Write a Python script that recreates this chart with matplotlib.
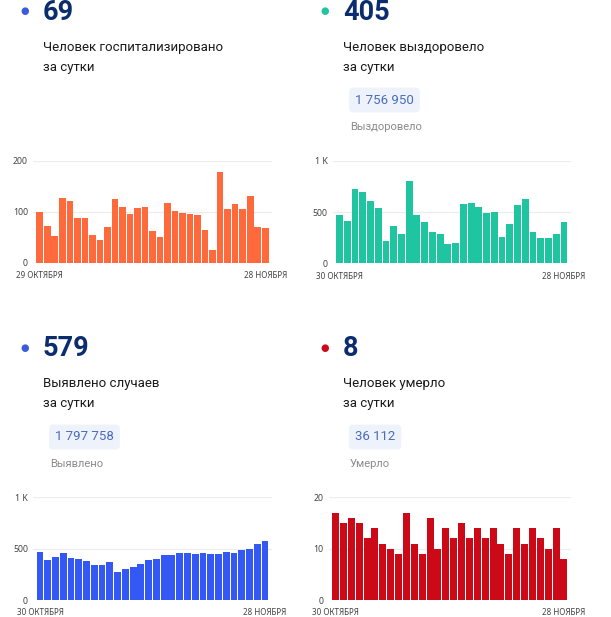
import matplotlib
matplotlib.use("Agg")
import matplotlib.pyplot as plt

plt.rcParams['font.family'] = ['Roboto', 'DejaVu Sans']

W, H = 611, 617

hosp_vals = [100, 73, 53, 127, 122, 88, 87, 55, 44, 71, 125, 110, 95, 108, 109, 62, 50, 117,
             101, 98, 96, 93, 64, 25, 177, 105, 116, 106, 131, 71, 69]
recov_vals = [468, 409, 721, 692, 607, 542, 221, 360, 286, 799, 474, 399, 308, 286, 185, 201,
              581, 591, 552, 487, 497, 253, 380, 571, 623, 308, 244, 247, 289, 405]
cases_vals = [464, 393, 422, 458, 406, 403, 383, 344, 344, 367, 270, 299, 325, 351, 386, 403,
              435, 435, 458, 458, 448, 455, 445, 448, 468, 458, 484, 497, 542, 579]
death_vals = [17, 15, 16, 15, 12, 14, 11, 10, 9, 17, 11, 9, 16, 10, 14, 12, 15, 12, 14, 12,
              14, 11, 9, 14, 11, 14, 12, 10, 14, 8]

hosp_xlabels = ["29 ОКТЯБРЯ", "28 НОЯБРЯ"]
other_xlabels = ["30 ОКТЯБРЯ", "28 НОЯБРЯ"]

hosp_yticks, hosp_ylabels = [0, 100, 200], ["0", "100", "200"]
k_yticks, k_ylabels = [0, 500, 1000], ["0", "500", "1 K"]
death_yticks, death_ylabels = [0, 10, 20], ["0", "10", "20"]

headline = ["69", "405", "579", "8"]
titles = ["Человек госпитализировано\nза сутки", "Человек выздоровело\nза сутки",
          "Выявлено случаев\nза сутки", "Человек умерло\nза сутки"]
totals = [None, "1 756 950", "1 797 758", "36 112"]
total_labels = [None, "Выздоровело", "Выявлено", "Умерло"]

fig = plt.figure(figsize=(W / 100, H / 100), dpi=100)
fig.patch.set_facecolor('white')

NAVY = '#0b2d6e'
TXT = '#1a1a1a'
TICKFONT = ['Noto Sans', 'DejaVu Sans']


def add_chart(x0, x1, ytop, ybot, vals, color, yticks, ylabels, xlabels):
    n = len(vals)
    m = 0.4
    ax = fig.add_axes([x0 / W, 1 - ybot / H, (x1 - x0) / W, (ybot - ytop) / H])
    ax.bar(range(n), vals, width=0.88, color=color, zorder=3)
    ax.set_xlim(-0.5 - m, n - 0.5 + m)
    ax.set_ylim(yticks[0], yticks[-1])
    ax.set_yticks(yticks)
    ax.set_yticklabels(ylabels, fontsize=6.3, color='#444444', family=TICKFONT)
    ax.set_xticks([0, n - 1])
    ax.set_xticklabels(xlabels, fontsize=5.8, color='#444444', family=TICKFONT)
    ax.tick_params(length=0)
    ax.tick_params(axis='y', pad=3.6)
    ax.tick_params(axis='x', pad=6)
    for s in ax.spines.values():
        s.set_visible(False)
    ax.grid(axis='y', color='#ececec', lw=0.8, zorder=0)
    ax.set_facecolor('none')
    return ax


def header(x, y, dotcolor, num, title, total, tlabel):
    fig.text((x - 18) / W, 1 - (y + 11) / H, '●', fontsize=7, color=dotcolor,
             ha='center', va='center', family=['DejaVu Sans'])
    fig.text(x / W, 1 - (y + 12) / H, num, fontsize=19.5, fontweight='bold', color=NAVY,
             ha='left', va='center')
    lines = title.split('\n')
    fig.text(x / W, 1 - (y + 47) / H, lines[0], fontsize=9.5, color=TXT, ha='left', va='center')
    fig.text(x / W, 1 - (y + 67) / H, lines[1], fontsize=9.5, color=TXT, ha='left', va='center')
    if total:
        fig.text((x + 12) / W, 1 - (y + 100) / H, total, fontsize=9.5, color='#4a6bbf',
                 ha='left', va='center',
                 bbox=dict(boxstyle='round,pad=0.45,rounding_size=0.3', fc='#eef3fb', ec='none'))
        fig.text((x + 7) / W, 1 - (y + 127) / H, tlabel, fontsize=8, color='#8a8a8a',
                 ha='left', va='center')


header(43, 0, '#3b5bdb', headline[0], titles[0], totals[0], total_labels[0])
header(343, 0, '#1fc4a0', headline[1], titles[1], totals[1], total_labels[1])
header(43, 337, '#3b5bdb', headline[2], titles[2], totals[2], total_labels[2])
header(343, 337, '#cc0a17', headline[3], titles[3], totals[3], total_labels[3])

add_chart(33, 272, 160.7, 263, hosp_vals, '#ff6a3d', hosp_yticks, hosp_ylabels, hosp_xlabels)
add_chart(332.5, 571, 160.7, 263.3, recov_vals, '#1fc4a0', k_yticks, k_ylabels, other_xlabels)
add_chart(33, 272, 497.3, 600, cases_vals, '#3358f4', k_yticks, k_ylabels, other_xlabels)
add_chart(328.5, 571, 497.3, 600, death_vals, '#cc0a17', death_yticks, death_ylabels, other_xlabels)

fig.savefig('out.png', dpi=100, facecolor='white')
